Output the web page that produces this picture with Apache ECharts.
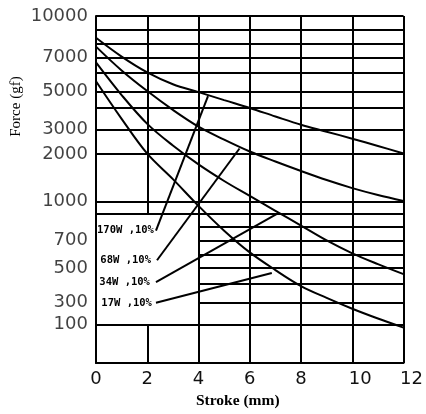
<!DOCTYPE html>
<html><head><meta charset="utf-8">
<script src="https://cdn.jsdelivr.net/npm/echarts@6/dist/echarts.min.js"></script>
<style>html,body{margin:0;padding:0;background:#fff}#c{width:426px;height:414px}</style>
</head><body><div id="c"></div>
<script>
// ---- data ----
const stroke = [0,1,2,3,4,5,6,7,8,9,10,11,12];
const force170W = [8430,7070,6000,5385,4970,4480,4000,3610,3230,2920,2630,2330,2020];
const force68W  = [7790,6130,5030,3910,3140,2590,2100,1840,1640,1450,1280,1135,1010];
const force34W  = [6670,4790,3270,2350,1780,1430,1115,924,808,700,607,529,462];
const force17W  = [5540,3500,2010,1470,964,771,614,488,389,326,245,155,92];
const curveNames = ['170W ,10%','68W ,10%','34W ,10%','17W ,10%'];
// leader lines: [stroke, force] at the label and on the curve
const leader170W = [[2.34,771],[4.37,4730]];
const leader68W  = [[2.38,557],[5.6,2224]];
const leader34W  = [[2.34,412],[7.13,908]];
const leader17W  = [[2.34,300],[6.86,469]];
const yTickLabels = [100,300,500,700,1000,2000,3000,5000,7000,10000];
const yGridValues = [100,300,400,500,600,700,800,900,1000,2000,3000,4000,5000,6000,7000,8000,9000,10000];
const xGridValues = [2,4,6,8,10,12];
// the chart's hand-drawn force scale: force value -> position along the y axis
const scaleForce = [0,100,300,400,500,600,700,800,900,1000,2000,3000,4000,5000,6000,7000,8000,9000,10000];
const scalePos   = [0,39,61,80,96,110,124,138,151,163.5,211.5,236,258,274.5,294,309,323,337,351];

function pos(v){
  for(let i=1;i<scaleForce.length;i++){
    if(v<=scaleForce[i]){
      const t=(v-scaleForce[i-1])/(scaleForce[i]-scaleForce[i-1]);
      return scalePos[i-1]+t*(scalePos[i]-scalePos[i-1]);
    }
  }
  return scalePos[scalePos.length-1];
}
const yMax = pos(10000);
// region left blank for the legend labels (rows start at x=4, column x=2 broken)
const blankRowsFrom = 300, blankRowsTo = 800, blankFromX = 4, blankColX = 2, blankColLow = 100, blankColHigh = 900;

const gridLines = [];
yGridValues.forEach(v=>{
  if(v>=blankRowsFrom && v<=blankRowsTo) gridLines.push([{coord:[blankFromX,pos(v)]},{coord:[12,pos(v)]}]);
  else gridLines.push({yAxis:pos(v)});
});
xGridValues.forEach(v=>{
  if(v===blankColX){
    gridLines.push([{coord:[v,0]},{coord:[v,pos(blankColLow)]}]);
    gridLines.push([{coord:[v,pos(blankColHigh)]},{coord:[v,yMax]}]);
  } else gridLines.push({xAxis:v});
});

const lineStyle = {color:'#000', width:2};
const curves = [force170W,force68W,force34W,force17W].map((arr,k)=>({
  name: curveNames[k], type:'line', smooth:0.35, symbol:'none',
  lineStyle: lineStyle, data: stroke.map((x,i)=>[x,pos(arr[i])]), z:3
}));
const labelGap = [2,6,6,4];
const leaders = [leader170W,leader68W,leader34W,leader17W].map((pts,k)=>({
  type:'line', symbol:'circle', symbolSize:0.1, itemStyle:{color:'#000'},
  lineStyle: lineStyle, z:3,
  data: pts.map((p,i)=>({
    value:[p[0],pos(p[1])],
    label: i===0 ? {show:true, position:'left', distance:labelGap[k], formatter:curveNames[k],
      fontFamily:'DejaVu Sans Mono', fontWeight:'bold', fontSize:10.5, color:'#000'} : {show:false}
  }))
}));

const chart = echarts.init(document.getElementById('c'), null, {renderer:'canvas'});
chart.setOption({
  animation:false,
  backgroundColor:'#fff',
  grid:{left:96, right:17, top:16, bottom:47, containLabel:false},
  xAxis:{
    type:'value', min:0, max:12, interval:2,
    axisLine:{show:true, lineStyle:{color:'#000', width:2}},
    axisTick:{show:false}, splitLine:{show:false},
    axisLabel:{fontSize:18, fontFamily:'DejaVu Sans', color:'#111', margin:7,
      formatter: v => v>=10 ? '{s|'+v+'}' : String(v),
      rich:{s:{fontSize:18, fontFamily:'DejaVu Sans', color:'#111', padding:[0,0,0,16]}}},
    name:'Stroke (mm)', nameLocation:'middle', nameGap:27,
    nameTextStyle:{fontFamily:'Liberation Serif', fontWeight:'bold', fontSize:15.5, color:'#000', padding:[0,24,0,0]}
  },
  yAxis:{
    type:'value', min:0, max:yMax,
    axisLine:{show:true, lineStyle:{color:'#000', width:2}},
    axisTick:{show:false}, splitLine:{show:false}, axisLabel:{show:false},
    name:'Force (gf)', nameLocation:'middle', nameRotate:90, nameGap:72,
    nameTextStyle:{fontFamily:'Liberation Serif', fontSize:15, color:'#000', padding:[0,0,0,166]}
  },
  series:[
    {type:'line', data:[], silent:true,
     markLine:{silent:true, symbol:['none','none'], label:{show:false},
       lineStyle:{color:'#000', width:2, type:'solid'}, emphasis:{disabled:true}, data:gridLines}},
    {type:'scatter', symbolSize:0.1, clip:false, silent:true, itemStyle:{color:'#000'},
     data: yTickLabels.map(v=>({value:[0,pos(v)], name:String(v)})),
     label:{show:true, position:'left', distance:8, formatter:'{b}', fontSize:18, fontFamily:'DejaVu Sans', color:'#111'}},
    ...curves, ...leaders
  ]
});
</script></body></html>
